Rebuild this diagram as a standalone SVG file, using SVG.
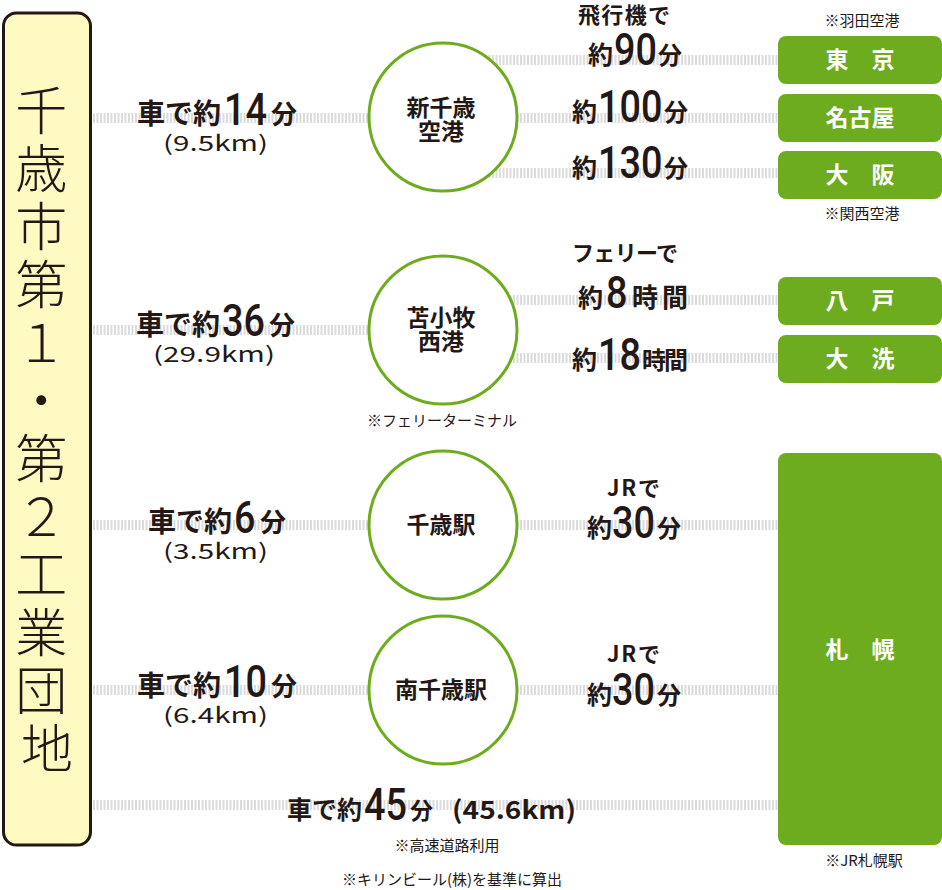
<svg xmlns="http://www.w3.org/2000/svg" width="942" height="890" viewBox="0 0 942 890">
<style>
.ln{stroke:#dcdcdc;stroke-width:10;stroke-dasharray:2 1.5;fill:none}
.t{font-family:"Noto Sans CJK JP","Noto Sans",sans-serif;fill:#231815;font-weight:bold}
.e{text-anchor:end}
.k{font-family:"Noto Sans CJK JP","Noto Sans",sans-serif;fill:#231815;font-weight:normal}
.n{font-family:Roboto,"Liberation Sans",sans-serif;fill:#231815;font-weight:500;font-size:45px}
.note{font-family:"Noto Sans CJK JP","Noto Sans",sans-serif;fill:#231815;font-size:15px;text-anchor:middle}
.box{fill:#6eac1f}
.bl{font-family:"Noto Sans CJK JP","Noto Sans",sans-serif;fill:#fff;font-weight:bold;font-size:23px;text-anchor:middle}
.c{fill:#fff;stroke:#6eac1f;stroke-width:3}
.cl{font-family:"Noto Sans CJK JP","Noto Sans",sans-serif;fill:#231815;font-weight:bold;font-size:23px;text-anchor:middle}
.big{font-family:"Noto Sans CJK JP","Noto Sans",sans-serif;fill:#231815;font-size:52px;font-weight:300;text-anchor:middle}
</style>

<g id="connectors">
<line class="ln" x1="93" y1="118" x2="443" y2="118"/>
<line class="ln" x1="443" y1="60" x2="778" y2="60"/>
<line class="ln" x1="443" y1="118" x2="778" y2="118"/>
<line class="ln" x1="443" y1="173" x2="778" y2="173"/>
<line class="ln" x1="93" y1="330" x2="443" y2="330"/>
<line class="ln" x1="443" y1="300" x2="778" y2="300"/>
<line class="ln" x1="443" y1="358" x2="778" y2="358"/>
<line class="ln" x1="93" y1="525" x2="778" y2="525"/>
<line class="ln" x1="93" y1="690" x2="778" y2="690"/>
<line class="ln" x1="93" y1="805" x2="778" y2="805"/>
</g>

<g id="origin">
<rect x="3.5" y="13" width="87" height="832" rx="13" fill="#fff9c2" stroke="#231815" stroke-width="3"/>
<text class="big">
<tspan x="47" y="130">千</tspan>
<tspan x="47" y="188">歳</tspan>
<tspan x="47" y="246">市</tspan>
<tspan x="47" y="304">第</tspan>
<tspan x="47" y="362">１</tspan>
<tspan x="47" y="420">・</tspan>
<tspan x="47" y="478">第</tspan>
<tspan x="47" y="536">２</tspan>
<tspan x="47" y="594">工</tspan>
<tspan x="47" y="652">業</tspan>
<tspan x="47" y="710">団</tspan>
<tspan x="47" y="768">地</tspan>
</text>
</g>

<g id="label-car-1">
<text class="t e" x="221" y="124" font-size="28">車で約</text>
<text class="n" transform="translate(224,125) scale(0.84,1)">14</text>
<text class="t" x="271" y="124" font-size="26">分</text>
<text class="k" x="163" y="151" font-size="21" textLength="105" lengthAdjust="spacingAndGlyphs">(9.5km)</text>
</g>
<g id="label-car-2">
<text class="t e" x="220" y="335" font-size="28">車で約</text>
<text class="n" transform="translate(222,336) scale(0.84,1)">36</text>
<text class="t" x="269" y="335" font-size="26">分</text>
<text class="k" x="153" y="362" font-size="21" textLength="122" lengthAdjust="spacingAndGlyphs">(29.9km)</text>
</g>
<g id="label-car-3">
<text class="t e" x="232" y="532" font-size="28">車で約</text>
<text class="n" transform="translate(234,533) scale(0.84,1)">6</text>
<text class="t" x="260" y="532" font-size="26">分</text>
<text class="k" x="163" y="559" font-size="21" textLength="105" lengthAdjust="spacingAndGlyphs">(3.5km)</text>
</g>
<g id="label-car-4">
<text class="t e" x="221" y="696" font-size="28">車で約</text>
<text class="n" transform="translate(224,697) scale(0.84,1)">10</text>
<text class="t" x="271" y="696" font-size="26">分</text>
<text class="k" x="163" y="723" font-size="21" textLength="105" lengthAdjust="spacingAndGlyphs">(6.4km)</text>
</g>
<g id="label-car-5">
<text class="t e" x="362" y="819" font-size="25">車で約</text>
<text class="n" transform="translate(364,820) scale(0.84,1)">45</text>
<text class="t" x="410" y="819" font-size="23">分</text>
<text class="t" x="452" y="819" font-size="25" textLength="124" lengthAdjust="spacingAndGlyphs">(45.6km)</text>
<text class="note" x="447" y="851">※高速道路利用</text>
</g>

<g id="node-shinchitose">
<circle class="c" cx="443" cy="117" r="74"/>
<text class="cl" x="441" y="116">新千歳</text>
<text class="cl" x="441" y="140">空港</text>
</g>
<g id="node-tomakomai">
<circle class="c" cx="443" cy="330" r="74"/>
<text class="cl" x="441" y="326">苫小牧</text>
<text class="cl" x="441" y="350">西港</text>
<text class="note" x="442" y="426">※フェリーターミナル</text>
</g>
<g id="node-chitose">
<circle class="c" cx="443" cy="525" r="74"/>
<text class="cl" x="441" y="533">千歳駅</text>
</g>
<g id="node-minamichitose">
<circle class="c" cx="443" cy="690" r="74"/>
<text class="cl" x="441" y="698">南千歳駅</text>
</g>

<g id="label-air">
<text class="t" x="578" y="23" font-size="22" textLength="92">飛行機で</text>
<text class="t" x="588" y="64" font-size="25">約</text>
<text class="n" transform="translate(614,65) scale(0.84,1)">90</text>
<text class="t" x="658" y="64" font-size="24">分</text>
<text class="t" x="572" y="121" font-size="25">約</text>
<text class="n" transform="translate(598,122) scale(0.84,1)">100</text>
<text class="t" x="664" y="121" font-size="24">分</text>
<text class="t" x="572" y="177" font-size="25">約</text>
<text class="n" transform="translate(598,178) scale(0.84,1)">130</text>
<text class="t" x="664" y="177" font-size="24">分</text>
</g>
<g id="label-ferry">
<text class="t" x="572" y="261" font-size="22" textLength="106">フェリーで</text>
<text class="t" x="578" y="307" font-size="25">約</text>
<text class="n" transform="translate(606,308) scale(0.84,1)">8</text>
<text class="t" x="632" y="307" font-size="26" textLength="56">時間</text>
<text class="t" x="572" y="369" font-size="25">約</text>
<text class="n" transform="translate(598,370) scale(0.84,1)">18</text>
<text class="t" x="642" y="369" font-size="24" textLength="46">時間</text>
</g>
<g id="label-jr">
<text class="t" x="607" y="496" font-size="22" textLength="53">JRで</text>
<text class="t" x="587" y="537" font-size="25">約</text>
<text class="n" transform="translate(612,538) scale(0.84,1)">30</text>
<text class="t" x="657" y="537" font-size="24">分</text>
<text class="t" x="607" y="662" font-size="22" textLength="53">JRで</text>
<text class="t" x="587" y="704" font-size="25">約</text>
<text class="n" transform="translate(612,705) scale(0.84,1)">30</text>
<text class="t" x="657" y="704" font-size="24">分</text>
</g>

<g id="node-tokyo">
<text class="note" x="862" y="26">※羽田空港</text>
<rect class="box" x="778" y="36" width="164" height="48" rx="8"/>
<text class="bl" x="860" y="68">東　京</text>
</g>
<g id="node-nagoya">
<rect class="box" x="778" y="94" width="164" height="48" rx="8"/>
<text class="bl" x="860" y="126">名古屋</text>
</g>
<g id="node-osaka">
<rect class="box" x="778" y="151" width="164" height="48" rx="8"/>
<text class="bl" x="860" y="183">大　阪</text>
<text class="note" x="862" y="219">※関西空港</text>
</g>
<g id="node-hachinohe">
<rect class="box" x="778" y="277" width="164" height="48" rx="8"/>
<text class="bl" x="860" y="309">八　戸</text>
</g>
<g id="node-oarai">
<rect class="box" x="778" y="335" width="164" height="48" rx="8"/>
<text class="bl" x="860" y="367">大　洗</text>
</g>
<g id="node-sapporo">
<rect class="box" x="778" y="453" width="164" height="392" rx="8"/>
<text class="bl" x="860" y="658">札　幌</text>
<text class="note" x="864" y="866">※JR札幌駅</text>
</g>

<text class="note" x="452" y="885" font-size="16">※キリンビール(株)を基準に算出</text>
</svg>
